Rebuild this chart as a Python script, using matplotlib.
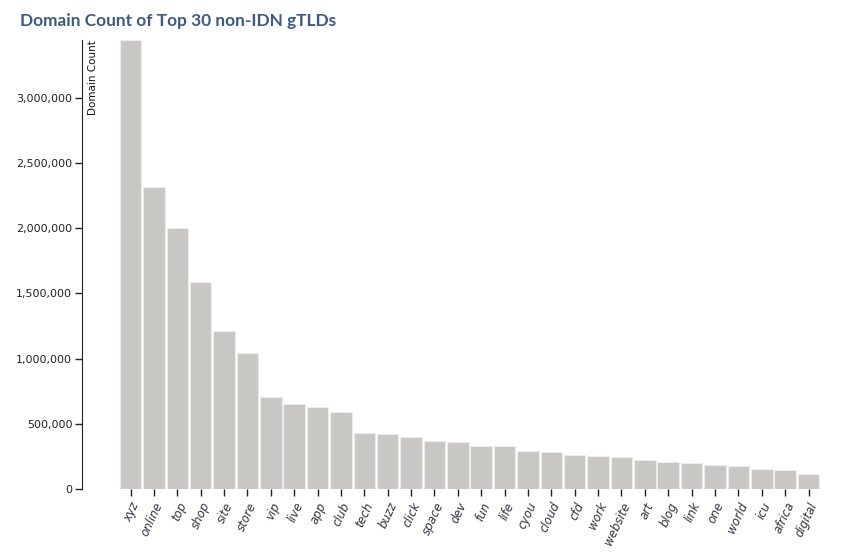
import matplotlib.pyplot as plt
from matplotlib.ticker import FuncFormatter

tlds = ['xyz', 'online', 'top', 'shop', 'site', 'store', 'vip', 'live', 'app', 'club',
        'tech', 'buzz', 'click', 'space', 'dev', 'fun', 'life', 'cyou', 'cloud', 'cfd',
        'work', 'website', 'art', 'blog', 'link', 'one', 'world', 'icu', 'africa', 'digital']
counts = [3445000, 2317000, 2000000, 1588000, 1212000, 1043000, 706000, 652000, 629000, 591000,
          430000, 422000, 399000, 368000, 361000, 330000, 330000, 292000, 284000, 261000,
          253000, 246000, 222000, 207000, 203000, 184000, 176000, 153000, 146000, 115000]
yticks = [0, 500000, 1000000, 1500000, 2000000, 2500000, 3000000]

W, H = 850, 555
fig = plt.figure(figsize=(W / 100, H / 100), dpi=100)
# axes box in pixel coords: x 82..830, y 40..489
ax = fig.add_axes([82 / W, 1 - 489 / H, (830 - 82) / W, (489 - 40) / H])

step = 23.38
x0 = (82 - 130.5) / step
x1 = (830 - 130.5) / step
ax.bar(range(len(tlds)), counts, width=0.92, color='#c8c7c3', edgecolor='#ececec', linewidth=0.8)
ax.set_xlim(x0, x1)
ax.set_ylim(0, 3445000)

ax.set_yticks(yticks)
ax.yaxis.set_major_formatter(FuncFormatter(lambda v, p: f'{int(v):,}'))
ax.tick_params(axis='y', length=5, width=1, labelsize=8, colors='#222222', pad=2)
ax.tick_params(axis='x', length=5, width=1, colors='#222222', pad=3)
ax.set_xticks(range(len(tlds)))
ax.set_xticklabels(tlds, rotation=65, ha='right', va='top', rotation_mode='anchor',
                   fontsize=8.5, style='italic', color='#333344', family='DejaVu Sans')

for s in ['top', 'right', 'bottom']:
    ax.spines[s].set_visible(False)
ax.spines['left'].set_color('#222222')

ax.text(93 / W, 1 - 40 / H, 'Domain Count', transform=fig.transFigure, rotation=90,
        ha='center', va='top', fontsize=7.5, color='#111111')

fig.text(20 / W, 1 - 21 / H, 'Domain Count of Top 30 non-IDN gTLDs', fontsize=12.4,
         fontweight='bold', color='#3d5a80', family='Lato', va='center', ha='left')

fig.savefig('out.png', dpi=100)
